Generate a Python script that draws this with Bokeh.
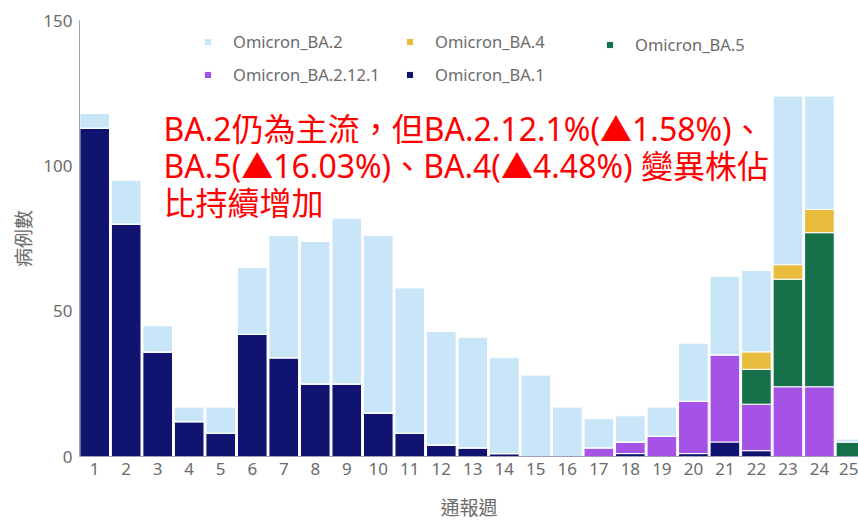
from bokeh.plotting import figure
from bokeh.models import ColumnDataSource, Range1d, Legend, LegendItem, Label, FixedTicker
from bokeh.embed import file_html
from bokeh.resources import INLINE

# ---- data ----
weeks = list(range(1, 26))
ba1 = [113, 80, 36, 12, 8, 42, 34, 25, 25, 15, 8, 4, 3, 1, 0, 0, 0, 1, 0, 1, 5, 2, 0, 0, 0]
ba2121 = [0, 0, 0, 0, 0, 0, 0, 0, 0, 0, 0, 0, 0, 0, 0, 0, 3, 4, 7, 18, 30, 16, 24, 24, 0]
ba5 = [0, 0, 0, 0, 0, 0, 0, 0, 0, 0, 0, 0, 0, 0, 0, 0, 0, 0, 0, 0, 0, 12, 37, 53, 5]
ba4 = [0, 0, 0, 0, 0, 0, 0, 0, 0, 0, 0, 0, 0, 0, 0, 0, 0, 0, 0, 0, 0, 6, 5, 8, 0]
ba2 = [5, 15, 9, 5, 9, 23, 42, 49, 57, 61, 50, 39, 38, 33, 28, 17, 10, 9, 10, 20, 27, 28, 58, 39, 1]

series = ["Omicron_BA.1", "Omicron_BA.2.12.1", "Omicron_BA.5", "Omicron_BA.4", "Omicron_BA.2"]
colors = ["#101470", "#a553e6", "#16704a", "#e8bd3e", "#c8e6f8"]
y_ticks = [0, 50, 100, 150]
note_lines = [
    "BA.2仍為主流，但BA.2.12.1%(▲1.58%)、",
    "BA.5(▲16.03%)、BA.4(▲4.48%) 變異株佔",
    "比持續增加",
]

source = ColumnDataSource(data={
    "week": weeks,
    "Omicron_BA.1": ba1,
    "Omicron_BA.2.12.1": ba2121,
    "Omicron_BA.5": ba5,
    "Omicron_BA.4": ba4,
    "Omicron_BA.2": ba2,
})

p = figure(width=858, height=522, output_backend="svg", toolbar_location=None,
           x_range=Range1d(0.518, 25.24), y_range=Range1d(0, 150),
           min_border_left=79, min_border_right=0, min_border_top=20, min_border_bottom=64)
p.outline_line_color = None
p.xgrid.grid_line_color = None
p.ygrid.grid_line_color = None

rs = p.vbar_stack(series, x="week", width=0.94, color=colors, source=source,
                  line_color="white", line_width=1)
r_by = dict(zip(series, rs))

# axes
axis_color = "#9aa0b6"
tick_color = "#6b6b6b"
p.xaxis.ticker = FixedTicker(ticks=weeks)
p.yaxis.ticker = FixedTicker(ticks=y_ticks)
for ax in (p.xaxis[0], p.yaxis[0]):
    ax.axis_line_color = axis_color
    ax.axis_line_width = 1
    ax.major_tick_line_color = None
    ax.minor_tick_line_color = None
    ax.major_tick_out = 0
    ax.major_tick_in = 0
    ax.major_label_text_font = "Noto Sans"
    ax.major_label_text_font_size = "17px"
    ax.major_label_text_color = tick_color
    ax.axis_label_text_font = "Noto Sans CJK TC"
    ax.axis_label_text_font_size = "19px"
    ax.axis_label_text_font_style = "normal"
    ax.axis_label_text_color = tick_color
p.xaxis.axis_label = "通報週"
p.yaxis.axis_label = "病例數"
p.xaxis.major_label_standoff = 6
p.xaxis.axis_label_standoff = 15
p.yaxis.major_label_standoff = 7
p.yaxis.axis_label_standoff = 4

# legends (three columns)
def make_legend(names, loc):
    items = [LegendItem(label=n, renderers=[r_by[n]]) for n in names]
    lg = Legend(items=items, location=loc, orientation="vertical",
                glyph_width=9, glyph_height=9, label_standoff=21, spacing=10,
                padding=0, margin=0, border_line_color=None, background_fill_alpha=0,
                label_text_font="Noto Sans", label_text_font_size="16.5px",
                label_text_color=tick_color, label_height=20)
    p.add_layout(lg)

make_legend(["Omicron_BA.2", "Omicron_BA.2.12.1"], (124, 370))
make_legend(["Omicron_BA.4", "Omicron_BA.1"], (326, 370))
make_legend(["Omicron_BA.5"], (526, 400))

# red annotation
for txt, yb in zip(note_lines, [112.9, 100.1, 87.3]):
    p.add_layout(Label(x=3.184, y=yb, text=txt, text_color="#ff0000",
                       text_font="Noto Sans, 'Noto Sans CJK TC'", text_font_size="32px",
                       text_baseline="alphabetic", text_align="left"))

open("out.html", "w").write(file_html(p, INLINE))
